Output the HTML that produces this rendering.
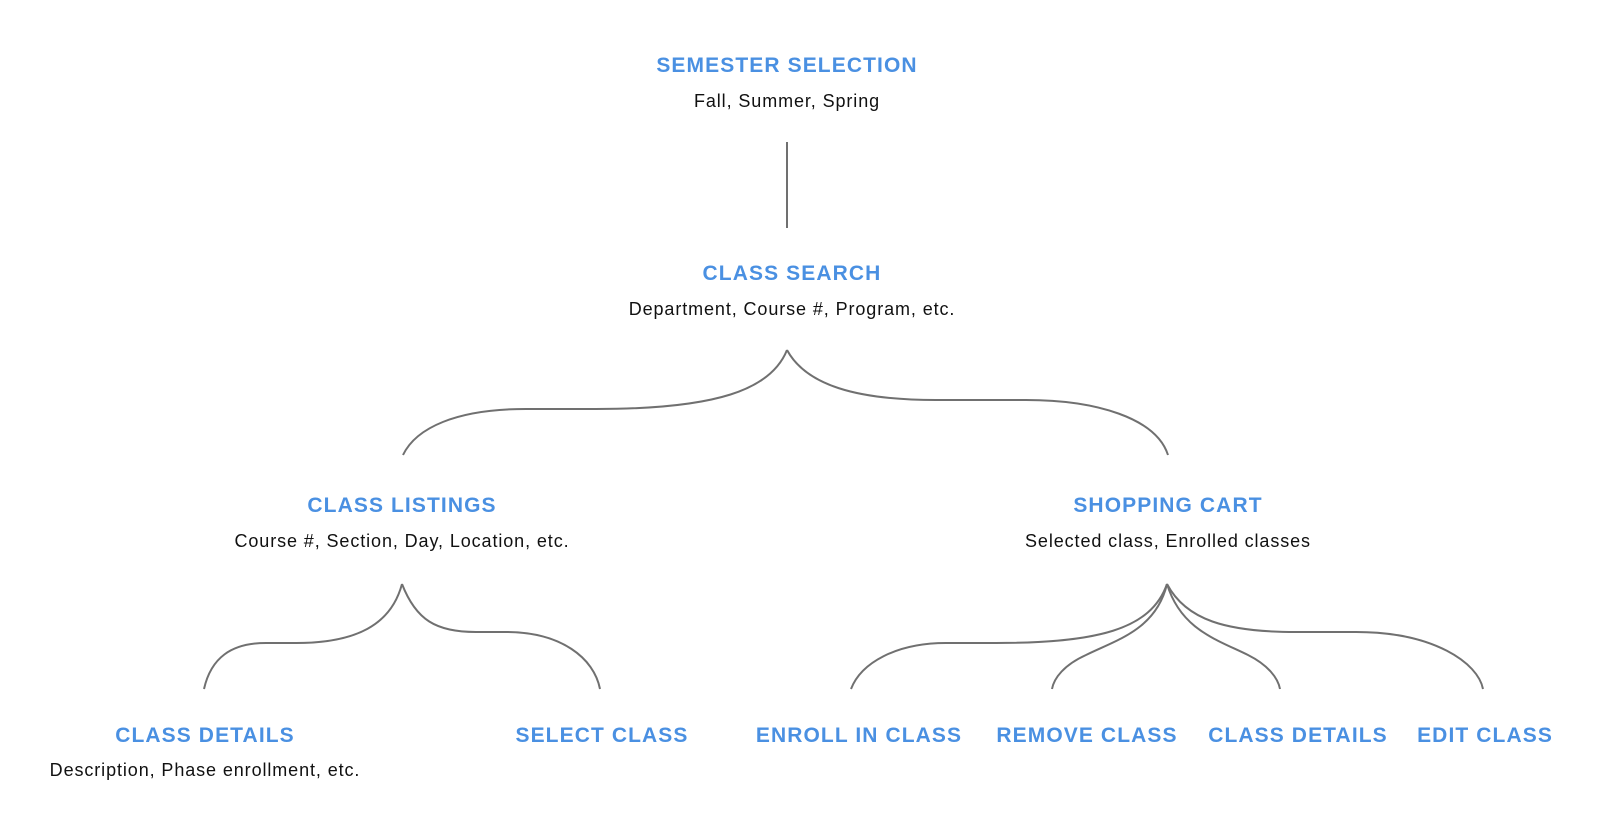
<!DOCTYPE html>
<html><head><meta charset="utf-8"><style>
html,body{margin:0;padding:0;background:#fff;width:1606px;height:834px;overflow:hidden}
.t{font-family:"Liberation Sans",sans-serif;font-weight:bold;font-size:21px;fill:#4a90e2;letter-spacing:1.1px}
.s{font-family:"Liberation Sans",sans-serif;font-size:18px;fill:#111;letter-spacing:0.9px}
path,line{stroke:#707070;stroke-width:2;fill:none}
</style></head><body>
<svg width="1606" height="834" xmlns="http://www.w3.org/2000/svg" text-anchor="middle">
<g transform="translate(-4,0)">
<text class="t" x="791" y="72">SEMESTER SELECTION</text>
<text class="s" x="791" y="107">Fall, Summer, Spring</text>
<line x1="791" y1="142" x2="791" y2="228"/>
<text class="t" x="796" y="280">CLASS SEARCH</text>
<text class="s" x="796" y="315">Department, Course #, Program, etc.</text>
<path d="M791,350 C775,390 720,409 600,409 L530,409 C460,409 420,428 407,455"/>
<path d="M791,350 C810,385 860,400 940,400 L1030,400 C1100,400 1160,418 1172,455"/>
<text class="t" x="406" y="512">CLASS LISTINGS</text>
<text class="s" x="406" y="547">Course #, Section, Day, Location, etc.</text>
<text class="t" x="1172" y="512">SHOPPING CART</text>
<text class="s" x="1172" y="547">Selected class, Enrolled classes</text>
<path d="M406,584 C395,625 360,643 300,643 L270,643 C235,643 215,658 208,689"/>
<path d="M406,584 C420,620 440,632 480,632 L510,632 C565,632 598,658 604,689"/>
<path d="M1171,584 C1155,630 1100,643 1000,643 L950,643 C900,643 865,663 855,689"/>
<path d="M1171,584 C1160,630 1120,640 1090,655 C1068,665 1058,678 1056,689"/>
<path d="M1171,584 C1185,630 1222,640 1252,655 C1272,665 1282,678 1284,689"/>
<path d="M1171,584 C1190,620 1230,632 1300,632 L1360,632 C1438,632 1482,663 1487,689"/>
<text class="t" x="209" y="742">CLASS DETAILS</text>
<text class="s" x="209" y="776">Description, Phase enrollment, etc.</text>
<text class="t" x="606" y="742">SELECT CLASS</text>
<text class="t" x="863" y="742">ENROLL IN CLASS</text>
<text class="t" x="1091" y="742">REMOVE CLASS</text>
<text class="t" x="1302" y="742">CLASS DETAILS</text>
<text class="t" x="1489" y="742">EDIT CLASS</text>
</g>
</svg>
</body></html>
